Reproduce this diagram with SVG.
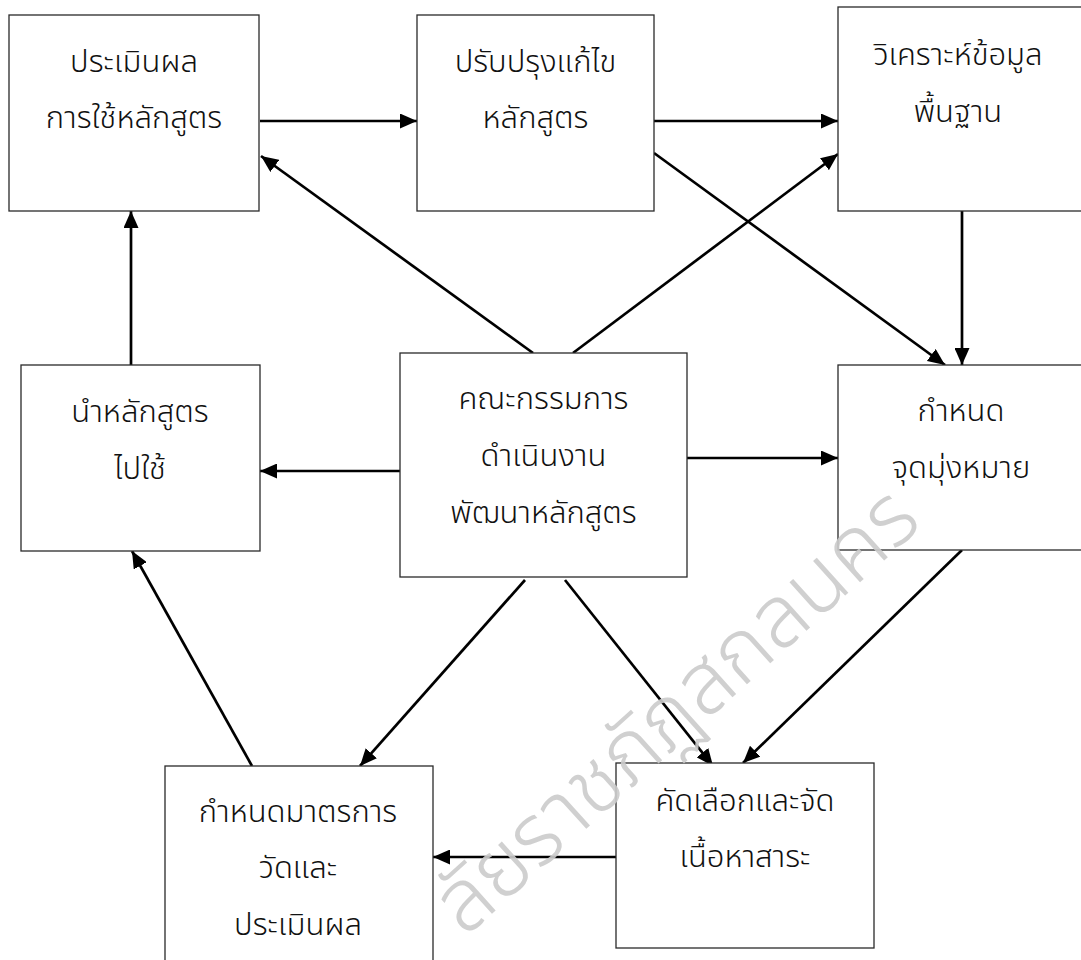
<svg xmlns="http://www.w3.org/2000/svg" width="1081" height="960" viewBox="0 0 1081 960">
<style>
.box{fill:#fff;stroke:#2a2a2a;stroke-width:1.3}
.lbl{font-family:"Noto Sans Thai","Noto Sans","DejaVu Sans",sans-serif;font-size:31px;font-weight:300;fill:#111;text-anchor:middle}
.con line{stroke:#000;stroke-width:2.7;marker-end:url(#ah)}
.wm{font-family:"Noto Sans Thai","Noto Sans","DejaVu Sans",sans-serif;font-size:86px;fill:#cccccc;font-weight:300}
</style>
<defs>
<marker id="ah" markerUnits="userSpaceOnUse" markerWidth="18" markerHeight="15" refX="17" refY="7.5" orient="auto">
<path d="M0,0 L17,7.5 L0,15 z" fill="#000"/>
</marker>
</defs>
<rect width="1081" height="960" fill="#fff"/>
<g id="connectors" class="con">
<line x1="260" y1="121" x2="417" y2="121"/>
<line x1="654" y1="121" x2="838" y2="121"/>
<line x1="962" y1="211" x2="962" y2="365"/>
<line x1="654" y1="153" x2="945" y2="365"/>
<line x1="573" y1="353" x2="838" y2="154"/>
<line x1="533" y1="353" x2="261" y2="156"/>
<line x1="131" y1="365" x2="131" y2="211"/>
<line x1="400" y1="471" x2="260" y2="471"/>
<line x1="687" y1="458" x2="838" y2="458"/>
<line x1="525" y1="580" x2="360" y2="766"/>
<line x1="565" y1="580" x2="713" y2="766"/>
<line x1="962" y1="550" x2="743" y2="763"/>
<line x1="616" y1="857" x2="433" y2="857"/>
<line x1="252" y1="766" x2="132" y2="551"/>
</g>
<g id="n1"><rect class="box" x="9" y="15" width="250" height="196"/><text class="lbl" x="134" y="72">ประเมินผล</text><text class="lbl" x="134" y="128">การใช้หลักสูตร</text></g>
<g id="n2"><rect class="box" x="417" y="15" width="237" height="196"/><text class="lbl" x="535.5" y="72">ปรับปรุงแก้ไข</text><text class="lbl" x="535.5" y="128">หลักสูตร</text></g>
<g id="n3"><rect class="box" x="838" y="7" width="260" height="204"/><text class="lbl" x="958" y="65">วิเคราะห์ข้อมูล</text><text class="lbl" x="958" y="122">พื้นฐาน</text></g>
<g id="n4"><rect class="box" x="21" y="365" width="239" height="186"/><text class="lbl" x="140" y="422">นำหลักสูตร</text><text class="lbl" x="140" y="479">ไปใช้</text></g>
<g id="n5"><rect class="box" x="400" y="353" width="287" height="224"/><text class="lbl" x="543.5" y="409">คณะกรรมการ</text><text class="lbl" x="543.5" y="466">ดำเนินงาน</text><text class="lbl" x="543.5" y="523">พัฒนาหลักสูตร</text></g>
<g id="n6"><rect class="box" x="838" y="365" width="260" height="185"/><text class="lbl" x="961" y="421">กำหนด</text><text class="lbl" x="961" y="478">จุดมุ่งหมาย</text></g>
<g id="n7"><rect class="box" x="165" y="766" width="268" height="210"/><text class="lbl" x="298" y="822">กำหนดมาตรการ</text><text class="lbl" x="298" y="878">วัดและ</text><text class="lbl" x="298" y="935">ประเมินผล</text></g>
<g id="n8"><rect class="box" x="616" y="763" width="258" height="185"/><text class="lbl" x="745" y="811">คัดเลือกและจัด</text><text class="lbl" x="745" y="867">เนื้อหาสาระ</text></g>
<g id="watermark" opacity="0.9"><text class="wm" transform="translate(465,938) rotate(-42)">ลัยราชภัฏสกลนคร</text></g>
</svg>
